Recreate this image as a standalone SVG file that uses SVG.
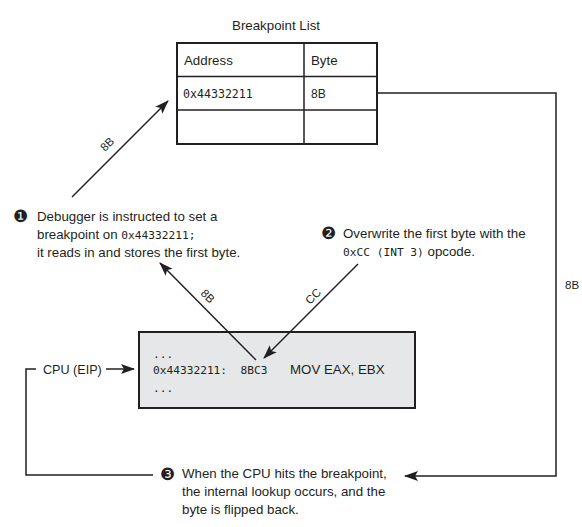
<svg xmlns="http://www.w3.org/2000/svg" width="582" height="527" viewBox="0 0 582 527">
<style>
.t{font-family:"Liberation Sans",Arial,sans-serif;font-size:13.3px;fill:#231f20}
.m{font-family:"DejaVu Sans Mono","Liberation Mono",monospace;font-size:11.2px;fill:#231f20}
.b{font-family:"DejaVu Sans",sans-serif;font-size:17px;fill:#231f20}
.ln{fill:none;stroke:#231f20;stroke-width:1.5}
.bx{fill:#fff;stroke:#231f20;stroke-width:2}
</style>
<defs>
<marker id="ah" markerUnits="userSpaceOnUse" markerWidth="14" markerHeight="10" refX="13" refY="5" orient="auto">
<path d="M0,0 L14,5 L0,10 L3,5 Z" fill="#231f20"/>
</marker>
</defs>
<g id="breakpoint-list">
<text class="t" x="276" y="30" text-anchor="middle">Breakpoint List</text>
<rect class="bx" x="177" y="43" width="200" height="101"/>
<line class="ln" x1="304" y1="43" x2="304" y2="144" stroke-width="2"/>
<line class="ln" x1="177" y1="76.5" x2="377" y2="76.5" stroke-width="2"/>
<line class="ln" x1="177" y1="110" x2="377" y2="110" stroke-width="2"/>
<text class="t" x="184" y="65">Address</text>
<text class="t" x="311" y="65">Byte</text>
<text class="m" x="183" y="98" style="font-size:11.6px">0x44332211</text>
<text class="t" x="311" y="98" style="font-size:12px">8B</text>
</g>
<g id="note1">
<text class="b" x="13" y="222">❶</text>
<text class="t" x="37" y="221">Debugger is instructed to set a</text>
<text class="t" x="37" y="239">breakpoint on <tspan class="m">0x44332211;</tspan></text>
<text class="t" x="37" y="257">it reads in and stores the first byte.</text>
</g>
<g id="note2">
<text class="b" x="321" y="239">❷</text>
<text class="t" x="343" y="238">Overwrite the first byte with the</text>
<text class="t" x="343" y="256"><tspan class="m">0xCC (INT 3)</tspan> opcode.</text>
</g>
<g id="memory">
<rect x="139" y="332" width="276" height="76" fill="#e6e7e8" stroke="#231f20" stroke-width="2"/>
<text class="m" x="153" y="358">...</text>
<text class="m" x="153" y="374" xml:space="preserve">0x44332211:  8BC3</text>
<text class="t" x="290" y="374">MOV EAX, EBX</text>
<text class="m" x="153" y="392">...</text>
</g>
<g id="cpu">
<text class="t" x="43" y="374" style="font-size:12.6px">CPU (EIP)</text>
</g>
<g id="note3">
<text class="b" x="160" y="480">❸</text>
<text class="t" x="182" y="478">When the CPU hits the breakpoint,</text>
<text class="t" x="182" y="496">the internal lookup occurs, and the</text>
<text class="t" x="182" y="514">byte is flipped back.</text>
</g>
<g id="connectors">
<line class="ln" x1="72" y1="197" x2="168" y2="101" marker-end="url(#ah)"/>
<text class="t" transform="translate(110,147) rotate(-45)" text-anchor="middle" style="font-size:11.5px">8B</text>
<line class="ln" x1="256" y1="360" x2="160" y2="263" marker-end="url(#ah)"/>
<text class="t" transform="translate(205,299) rotate(45)" text-anchor="middle" style="font-size:11.5px">8B</text>
<line class="ln" x1="358" y1="264" x2="264" y2="358" marker-end="url(#ah)"/>
<text class="t" transform="translate(316,299) rotate(-45)" text-anchor="middle" style="font-size:11.5px">CC</text>
<polyline class="ln" points="377,93 556,93 556,476 405,476" marker-end="url(#ah)"/>
<text class="t" x="565" y="289" style="font-size:11.5px">8B</text>
<polyline class="ln" points="36,369 26,369 26,475 153,475"/>
<line class="ln" x1="106" y1="369" x2="134" y2="369" marker-end="url(#ah)"/>
</g>
</svg>
